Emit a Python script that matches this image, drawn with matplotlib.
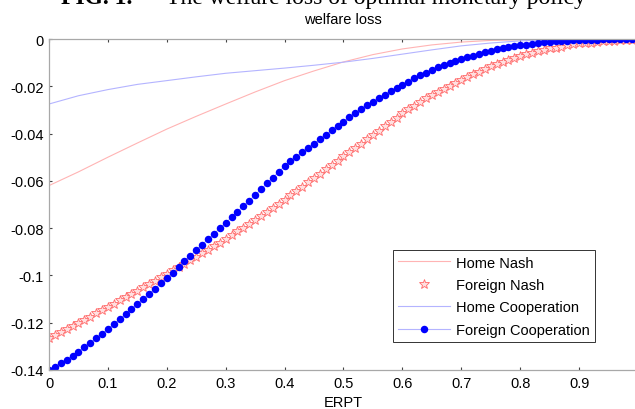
import numpy as np
import matplotlib
matplotlib.use("Agg")
import matplotlib.pyplot as plt

plt.rcParams['font.family'] = ['Liberation Sans', 'DejaVu Sans']
plt.rcParams['axes.unicode_minus'] = False

# ---- data ----
erpt = [round(i * 0.01, 2) for i in range(101)]

foreign_coop = [
    -0.1400, -0.1386, -0.1371, -0.1356, -0.1339, -0.1322, -0.1304, -0.1285, -0.1266, -0.1247,
    -0.1227, -0.1206, -0.1185, -0.1164, -0.1143, -0.1122, -0.1100, -0.1078, -0.1056, -0.1034,
    -0.1012, -0.0988, -0.0964, -0.0940, -0.0917, -0.0893, -0.0870, -0.0847, -0.0824, -0.0801,
    -0.0778, -0.0754, -0.0731, -0.0707, -0.0684, -0.0660, -0.0636, -0.0611, -0.0587, -0.0562,
    -0.0538, -0.0518, -0.0499, -0.0480, -0.0461, -0.0443, -0.0424, -0.0405, -0.0386, -0.0368,
    -0.0350, -0.0332, -0.0315, -0.0298, -0.0281, -0.0265, -0.0250, -0.0235, -0.0221, -0.0207,
    -0.0193, -0.0180, -0.0167, -0.0154, -0.0142, -0.0130, -0.0120, -0.0111, -0.0102, -0.0094,
    -0.0086, -0.0078, -0.0070, -0.0063, -0.0056, -0.0049, -0.0044, -0.0039, -0.0035, -0.0031,
    -0.0027, -0.0024, -0.0020, -0.0017, -0.0014, -0.0011, -0.0010, -0.0009, -0.0007, -0.0006,
    -0.0005, -0.0004, -0.0004, -0.0003, -0.0002, -0.0002, -0.0001, -0.0001, -0.0001, -0.0000,
    -0.0000,
]

foreign_nash = [
    -0.1265, -0.1252, -0.1239, -0.1226, -0.1213, -0.1200, -0.1187, -0.1174, -0.1161, -0.1147,
    -0.1134, -0.1120, -0.1106, -0.1093, -0.1079, -0.1065, -0.1051, -0.1037, -0.1022, -0.1008,
    -0.0994, -0.0979, -0.0965, -0.0950, -0.0936, -0.0921, -0.0906, -0.0891, -0.0876, -0.0861,
    -0.0846, -0.0830, -0.0814, -0.0798, -0.0782, -0.0765, -0.0748, -0.0731, -0.0714, -0.0697,
    -0.0680, -0.0661, -0.0643, -0.0624, -0.0606, -0.0587, -0.0569, -0.0551, -0.0532, -0.0514,
    -0.0496, -0.0478, -0.0460, -0.0443, -0.0425, -0.0407, -0.0388, -0.0370, -0.0351, -0.0333,
    -0.0314, -0.0298, -0.0282, -0.0267, -0.0251, -0.0236, -0.0223, -0.0210, -0.0198, -0.0185,
    -0.0173, -0.0161, -0.0150, -0.0139, -0.0127, -0.0116, -0.0107, -0.0098, -0.0089, -0.0080,
    -0.0071, -0.0065, -0.0058, -0.0052, -0.0046, -0.0040, -0.0036, -0.0032, -0.0027, -0.0023,
    -0.0019, -0.0017, -0.0015, -0.0012, -0.0010, -0.0008, -0.0007, -0.0006, -0.0004, -0.0003,
    -0.0002,
]

erpt_line = [round(i * 0.05, 2) for i in range(21)]
home_nash = [-0.0620, -0.0562, -0.0500, -0.0440, -0.0381, -0.0327, -0.0275, -0.0224, -0.0176, -0.0135,
             -0.0097, -0.0066, -0.0042, -0.0025, -0.0013, -0.0006, -0.0003, -0.0001, 0.0, 0.0, 0.0]
home_coop = [-0.0275, -0.0240, -0.0214, -0.0192, -0.0176, -0.0160, -0.0145, -0.0134, -0.0123, -0.0111,
             -0.0098, -0.0082, -0.0064, -0.0046, -0.0029, -0.0017, -0.0008, -0.0003, -0.0001, 0.0, 0.0]

xticks = [0, 0.1, 0.2, 0.3, 0.4, 0.5, 0.6, 0.7, 0.8, 0.9]
xticklabels = ['0', '0.1', '0.2', '0.3', '0.4', '0.5', '0.6', '0.7', '0.8', '0.9']
yticks = [-0.14, -0.12, -0.1, -0.08, -0.06, -0.04, -0.02, 0]
yticklabels = ['-0.14', '-0.12', '-0.1', '-0.08', '-0.06', '-0.04', '-0.02', '0']

# ---- figure ----
W, H = 635, 410
fig = plt.figure(figsize=(W / 100, H / 100), dpi=100)
ax = fig.add_axes([49 / W, 39 / H, 589 / W, 331 / H])

ax.plot(erpt_line, home_nash, color='#ffb4b4', lw=0.8, label='Home Nash')
ax.plot(erpt, foreign_nash, ls='none', marker='*', ms=7.5, mfc='#ffe0e0', mec='#ff6a6a',
        mew=0.6, label='Foreign Nash')
ax.plot(erpt_line, home_coop, color='#b4b4ff', lw=0.8, label='Home Cooperation')
ax.plot(erpt, foreign_coop, color='#b4b4ff', lw=0.8, marker='o', ms=5.4, mfc='#0000ff',
        mec='#0000ff', mew=0, label='Foreign Cooperation')

ax.set_xlim(0, 1)
ax.set_ylim(-0.14, 0)
ax.set_xticks(xticks)
ax.set_xticklabels(xticklabels)
ax.set_yticks(yticks)
ax.set_yticklabels(yticklabels)
ax.tick_params(direction='in', length=2.5, width=0.8, color='#444444', labelsize=10.5,
               pad=4, top=True, right=True)
for s in ax.spines.values():
    s.set_color('#a8a8a8')
    s.set_linewidth(0.9)

ax.set_xlabel('ERPT', fontsize=10.5, labelpad=4)
fig.text(343 / W, 1 - 20 / H, 'welfare loss', ha='center', va='center', fontsize=10.5)

leg = ax.legend(loc='lower right', bbox_to_anchor=(0.927, 0.0846), fontsize=10.5,
                frameon=True, fancybox=False, edgecolor='#333333', framealpha=1,
                borderpad=0.35, labelspacing=0.58, handlelength=3.6, handletextpad=0.4,
                borderaxespad=0)
leg.get_frame().set_linewidth(0.7)

# caption at the very top, clipped by the figure edge as in the reference
fig.text(61 / W, 1 - 4 / H, 'FIG. 1.', ha='left', va='baseline', fontsize=17,
         family='Liberation Serif', weight='bold')
fig.text(166 / W, 1 - 4 / H, 'The welfare loss of optimal monetary policy', ha='left',
         va='baseline', fontsize=17, family='Liberation Serif')

fig.savefig('out.png', dpi=100)
